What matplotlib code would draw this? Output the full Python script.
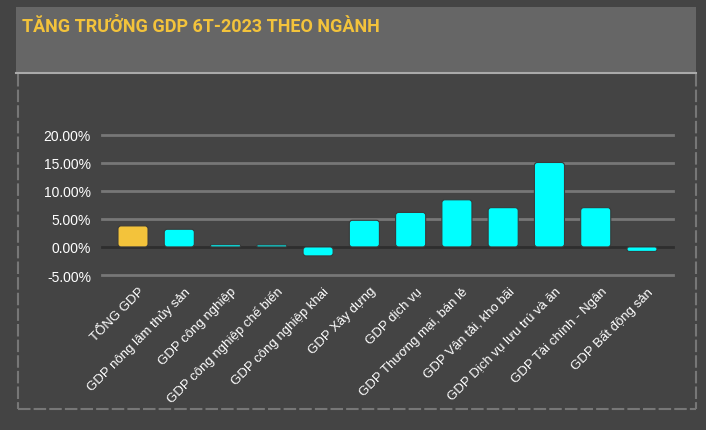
import matplotlib
matplotlib.use("Agg")
import matplotlib.pyplot as plt
from matplotlib.patches import Rectangle, FancyBboxPatch
from matplotlib.lines import Line2D
from matplotlib.ticker import FuncFormatter
from matplotlib.transforms import ScaledTranslation

# data
categories = ["TỔNG GDP", "GDP nông lâm thủy sản", "GDP công nghiệp",
              "GDP công nghiệp chế biến", "GDP công nghiệp khai", "GDP Xây dựng",
              "GDP dịch vụ", "GDP Thương mại, bán lẻ", "GDP Vận tải, kho bãi",
              "GDP Dịch vụ lưu trú và ăn", "GDP Tài chính - Ngân", "GDP Bất động sản"]
growth = [3.75, 3.15, 0.40, 0.37, -1.6, 4.75, 6.15, 8.4, 7.0, 15.05, 7.0, -0.8]
yticks = [-5, 0, 5, 10, 15, 20]
title = "TĂNG TRƯỞNG GDP 6T-2023 THEO NGÀNH"

bg = "#444444"
yellow = "#F3C33B"
cyan = "#00FFFF"

W, H = 706, 431
fig = plt.figure(figsize=(W / 100, H / 100), dpi=100, facecolor=bg)

# header panel and frame (figure pixel coords -> fractions)
def fx(px): return px / W
def fy(py): return 1 - py / H

fig.patches.append(Rectangle((fx(16), fy(73)), fx(696) - fx(16), fy(8) - fy(73),
                             transform=fig.transFigure, facecolor="#666666", edgecolor="none"))
fig.lines.append(Line2D([fx(16), fx(696)], [fy(74), fy(74)], transform=fig.transFigure,
                        color="#aaaaaa", lw=1.5))
for xs, ys in [([fx(18), fx(18)], [fy(75), fy(410)]),
               ([fx(696), fx(696)], [fy(75), fy(410)]),
               ([fx(18), fx(696)], [fy(410), fy(410)])]:
    fig.lines.append(Line2D(xs, ys, transform=fig.transFigure, color="#777777",
                            lw=1.5, ls=(0, (6, 1.5))))

fig.text(fx(22), fy(27), title, color=yellow, fontsize=13, fontweight="bold",
         family="Roboto", va="center", ha="left")

ax = fig.add_axes([fx(102), fy(276), fx(673) - fx(102), fy(135.7) - fy(276)])
ax.set_facecolor("none")
ax.set_xlim(-0.67, len(categories) - 0.33)
ax.set_ylim(-5, 20)

for t in yticks:
    ax.axhline(t, color="#2e2e2e" if t == 0 else "#777777", lw=2, zorder=1, clip_on=False)

colors = [yellow] + [cyan] * (len(categories) - 1)
bars = ax.bar(range(len(categories)), growth, width=0.65, color=colors, zorder=2)

# swap the plain bars for rounded ones of the same size
aspect = 0.54 / 0.065
for b, c in zip(bars, colors):
    x, y, w, h = b.get_x(), b.get_y(), b.get_width(), b.get_height()
    r = min(0.065, abs(h) / 2 / aspect)
    p = FancyBboxPatch((x, min(y, y + h)), w, abs(h),
                       boxstyle=f"round,pad=0,rounding_size={r}",
                       mutation_aspect=aspect, facecolor=c,
                       edgecolor="#3a3a3a", lw=0.8, zorder=3)
    ax.add_patch(p)
    b.set_visible(False)

for s in ax.spines.values():
    s.set_visible(False)

ax.set_yticks(yticks)
ax.yaxis.set_major_formatter(FuncFormatter(lambda v, _: f"{v:.2f}%"))
ax.tick_params(axis="y", length=0, pad=8, labelcolor="white", labelsize=10)
ax.set_xticks(range(len(categories)))
ax.set_xticklabels(categories, rotation=45, ha="right", rotation_mode="anchor",
                   color="white", fontsize=9.5)
ax.tick_params(axis="x", length=0, pad=7)
shift = ScaledTranslation(5 / 100, 0, fig.dpi_scale_trans)
for lab in ax.get_xticklabels():
    lab.set_transform(lab.get_transform() + shift)
for lab in ax.get_yticklabels() + ax.get_xticklabels():
    lab.set_family(["Liberation Sans", "DejaVu Sans"])

fig.savefig("out.png", dpi=100, facecolor=bg)
